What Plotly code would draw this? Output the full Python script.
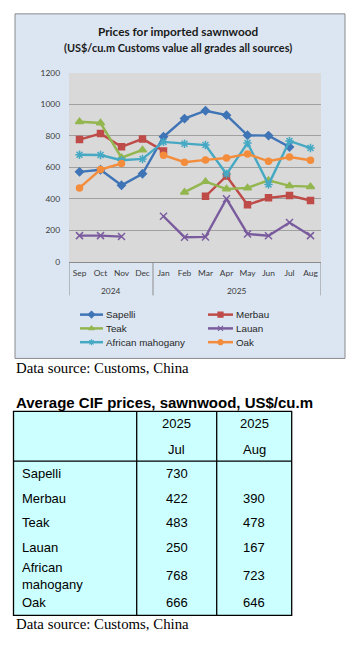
import plotly.graph_objects as go

W, H = 361, 645

# ---------------- data ----------------
years = ["2024"] * 4 + ["2025"] * 8
months = ["Sep", "Oct", "Nov", "Dec", "Jan", "Feb", "Mar", "Apr", "May", "Jun", "Jul", "Aug"]

sapelli = [572, 585, 487, 560, 795, 910, 960, 932, 804, 802, 730, None]
merbau = [777, 815, 731, 781, 705, None, 417, 546, 363, 407, 422, 390]
teak = [890, 882, 662, 711, None, 443, 510, 463, 470, 518, 483, 478]
lauan = [167, 167, 161, None, 290, 157, 159, 401, 178, 166, 250, 167]
african_mahogany = [681, 679, 646, 654, 762, 750, 742, 558, 755, 491, 768, 723]
oak = [470, 587, 625, None, 678, 633, 648, 660, 686, 639, 666, 646]

series_names = ["Sapelli", "Merbau", "Teak", "Lauan", "African mahogany", "Oak"]
series_values = [sapelli, merbau, teak, lauan, african_mahogany, oak]
y_tick_values = [0, 200, 400, 600, 800, 1000, 1200]

table_species = ["Sapelli", "Merbau", "Teak", "Lauan", "African<br>mahogany", "Oak"]
table_header_years = ["2025", "2025"]
table_header_months = ["Jul", "Aug"]
table_jul = [730, 422, 483, 250, 768, 666]
table_aug = [None, 390, 478, 167, 723, 646]

chart_title = "Prices for imported sawnwood"
chart_subtitle = "(US$/cu.m Customs value all grades all sources)"
source_text = "Data source: Customs, China"
table_title = "Average CIF prices, sawnwood, US$/cu.m"

# ---------------- styles ----------------
colors = ["#3F74B6", "#BE4B48", "#93B64F", "#7A5C9E", "#46A9C4", "#F38D3C"]
symbols = ["diamond", "square", "triangle-up", "x-thin-open", "asterisk-open", "circle"]
sizes = [6, 6, 7, 7, 7, 6]


def X(px):
    return px / W


def Y(py):
    return 1 - py / H


fig = go.Figure()
for name, vals, c, s, sz in zip(series_names, series_values, colors, symbols, sizes):
    fig.add_trace(go.Scatter(
        x=months, y=vals, name=name, mode="lines+markers",
        line=dict(color=c, width=2.4),
        marker=dict(symbol=s, size=sz, color=c, line=dict(color=c, width=1.5)),
        connectgaps=False, showlegend=False,
    ))

chart_font = "Lato, 'Open Sans', sans-serif"
axis_font = dict(family=chart_font, size=8.4, color="#3a3a3a")
legend_font = dict(family="Liberation Sans, Arial, sans-serif", size=9.8, color="#262626")
grid_c = "#8C8C8C"
shapes = [
    # chart area
    dict(type="rect", xref="paper", yref="paper", x0=X(15), x1=X(345), y0=Y(359), y1=Y(9),
         fillcolor="#DCE6F2", line=dict(color="#8A8A8A", width=1), layer="below"),
    # plot area
    dict(type="rect", xref="paper", yref="paper", x0=X(69), x1=X(321), y0=Y(261), y1=Y(69),
         fillcolor="#D9D9D9", line=dict(width=0), layer="below"),
]

annotations = [
    dict(text="<b>" + chart_title + "</b>", x=X(178), y=Y(27), xref="paper", yref="paper",
         xanchor="center", yanchor="middle", showarrow=False,
         font=dict(family=chart_font, size=11.8, color="#1a1a1a")),
    dict(text="<b>" + chart_subtitle + "</b>", x=X(178), y=Y(43), xref="paper", yref="paper",
         xanchor="center", yanchor="middle", showarrow=False,
         font=dict(family=chart_font, size=10.9, color="#1a1a1a")),
    dict(text=source_text, x=X(14), y=Y(369), xref="paper", yref="paper",
         xanchor="left", yanchor="middle", showarrow=False,
         font=dict(family="Liberation Serif, serif", size=14.8, color="#000")),
    dict(text="<b>" + table_title + "</b>", x=X(14), y=Y(404), xref="paper", yref="paper",
         xanchor="left", yanchor="middle", showarrow=False,
         font=dict(family="Liberation Sans, Arial, sans-serif", size=15, color="#000")),
    dict(text=source_text, x=X(14), y=Y(629), xref="paper", yref="paper",
         xanchor="left", yanchor="middle", showarrow=False,
         font=dict(family="Liberation Serif, serif", size=14.8, color="#000")),
]

# ---------------- year groups under the month axis ----------------
year_groups = []
for i, yv in enumerate(years):
    if not year_groups or year_groups[-1][0] != yv:
        year_groups.append([yv, i, i])
    else:
        year_groups[-1][2] = i
boundaries = [year_groups[0][1] - 0.5] + [g[2] + 0.5 for g in year_groups]
for b in boundaries:
    shapes.append(dict(type="line", xref="x", yref="paper", x0=b, x1=b, y0=Y(295), y1=Y(261),
                       line=dict(color=grid_c, width=1)))
for yv, i0, i1 in year_groups:
    annotations.append(dict(text=yv, x=(i0 + i1) / 2, y=Y(291), xref="x", yref="paper",
                            xanchor="center", yanchor="middle", showarrow=False, font=axis_font))

# ---------------- legend (two columns) ----------------
leg_cols = [(80, 103), (208, 233)]
leg_rows = [314.5, 328.5, 342.5]
for i, (name, c, s) in enumerate(zip(series_names, colors, symbols)):
    (lx0, lx1), ly = leg_cols[i % 2], leg_rows[i // 2]
    shapes.append(dict(type="line", xref="paper", yref="paper", x0=X(lx0), x1=X(lx1),
                       y0=Y(ly), y1=Y(ly), line=dict(color=c, width=2.5)))
    fig.add_trace(go.Scatter(
        x=[(lx0 + lx1) / 2], y=[ly], xaxis="x2", yaxis="y2", mode="markers",
        marker=dict(symbol=s, size=5, color=c, line=dict(color=c, width=1.2)),
        showlegend=False, hoverinfo="skip"))
    annotations.append(dict(text=name, x=X(lx1 + 0.5), y=Y(ly), xref="paper", yref="paper",
                            xanchor="left", yanchor="middle", showarrow=False, font=legend_font))

# ---------------- table ----------------
tl, c1, c2, tr = 13.5, 136.7, 216.7, 291.7
ttop, thead, tbot = 412.7, 463.3, 620
line_k = dict(color="#000", width=1.3)
shapes += [
    dict(type="rect", xref="paper", yref="paper", x0=X(tl), x1=X(tr), y0=Y(tbot), y1=Y(ttop),
         fillcolor="#CCFFFF", line=line_k, layer="below"),
    dict(type="line", xref="paper", yref="paper", x0=X(c1), x1=X(c1), y0=Y(tbot), y1=Y(ttop), line=line_k),
    dict(type="line", xref="paper", yref="paper", x0=X(c2), x1=X(c2), y0=Y(tbot), y1=Y(ttop), line=line_k),
    dict(type="line", xref="paper", yref="paper", x0=X(tl), x1=X(tr), y0=Y(thead), y1=Y(thead), line=line_k),
]
tfont = dict(family="Liberation Sans, Arial, sans-serif", size=13, color="#000")
col_centers = [(c1 + c2) / 2, (c2 + tr) / 2]
for cx, yr, mo in zip(col_centers, table_header_years, table_header_months):
    annotations.append(dict(text=yr, x=X(cx), y=Y(425), xref="paper", yref="paper",
                            xanchor="center", yanchor="middle", showarrow=False, font=tfont))
    annotations.append(dict(text=mo, x=X(cx), y=Y(451), xref="paper", yref="paper",
                            xanchor="center", yanchor="middle", showarrow=False, font=tfont))
row_y = [476, 501.7, 526, 551, 579.5, 607]
for ry, sp, vj, va in zip(row_y, table_species, table_jul, table_aug):
    annotations.append(dict(text=sp, x=X(20), y=Y(ry), xref="paper", yref="paper",
                            xanchor="left", yanchor="middle", align="left", showarrow=False,
                            font=tfont))
    for cx, v in zip(col_centers, [vj, va]):
        if v is not None:
            annotations.append(dict(text=str(v), x=X(cx), y=Y(ry), xref="paper", yref="paper",
                                    xanchor="center", yanchor="middle", showarrow=False, font=tfont))

fig.update_layout(
    width=W, height=H, margin=dict(l=0, r=0, t=0, b=0),
    paper_bgcolor="white", plot_bgcolor="rgba(0,0,0,0)",
    shapes=shapes, annotations=annotations, showlegend=False,
    xaxis=dict(type="category", domain=[X(69), X(321)], range=[-0.5, len(months) - 0.5],
               showgrid=False, showline=True, linecolor=grid_c, linewidth=1, tickangle=0,
               tickfont=axis_font, ticks="", ticklabelstandoff=3, fixedrange=True),
    yaxis=dict(domain=[Y(261), Y(69)], range=[0, 1200], tickvals=y_tick_values,
               showgrid=True, gridcolor="#A0A0A0", gridwidth=1, zeroline=False,
               showline=False, ticks="", ticklabelstandoff=8, fixedrange=True,
               tickfont=axis_font),
    xaxis2=dict(domain=[0, 1], range=[0, W], visible=False, anchor="y2", fixedrange=True),
    yaxis2=dict(domain=[0, 1], range=[H, 0], visible=False, anchor="x2", fixedrange=True),
)

fig.write_html("out.html", config={"displayModeBar": False, "staticPlot": True},
               post_script="document.body.style.margin='0';")
